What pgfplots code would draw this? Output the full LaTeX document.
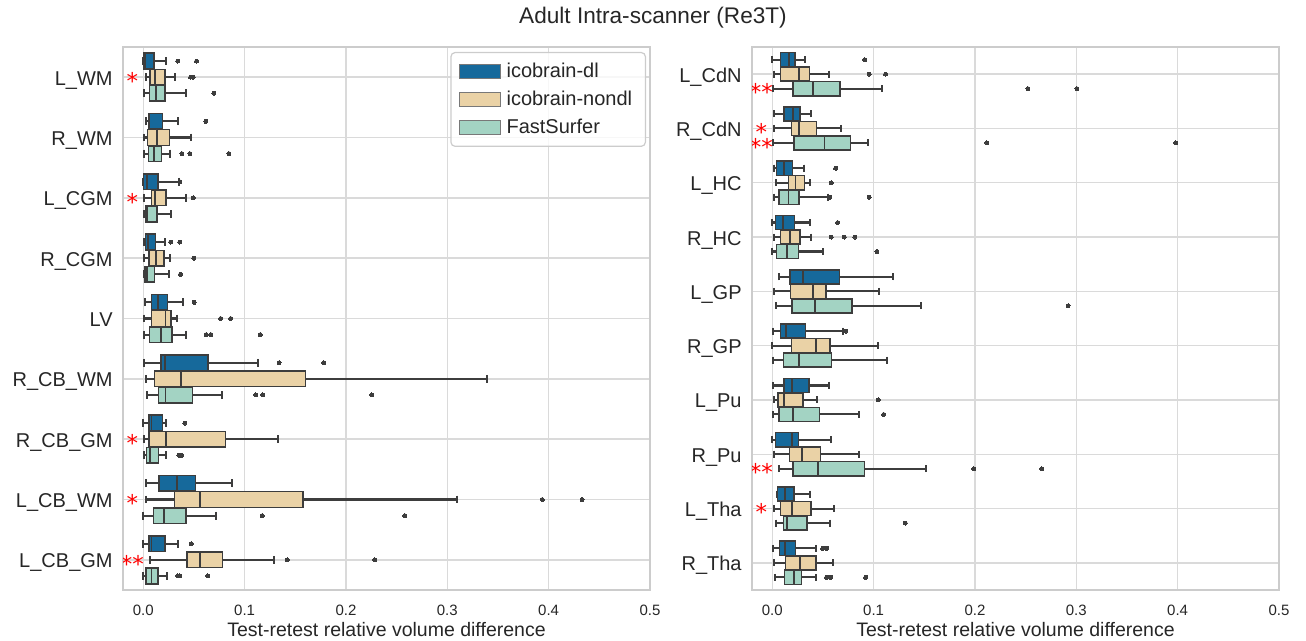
\documentclass[border=0pt]{standalone}
\usepackage{pgfplots}
\pgfplotsset{compat=1.18}
\usepgfplotslibrary{statistics}
\usepackage{fontspec}
\setmainfont{Liberation Sans}
\newfontfamily\djv{DejaVu Sans}
\definecolor{cblue}{RGB}{22,105,155}
\definecolor{ctan}{RGB}{234,210,166}
\definecolor{cmint}{RGB}{163,211,195}
\definecolor{edge}{RGB}{61,61,61}
\definecolor{gridgray}{RGB}{218,218,218}
\definecolor{framegray}{RGB}{204,204,204}
\definecolor{leggray}{RGB}{120,120,120}

\newcommand{\bx}[7]{\addplot[forget plot, fill=#1, draw=edge, line width=0.8pt,
  mark=*, mark size=1pt, mark options={fill=edge, draw=edge, line width=0pt},
  boxplot/every whisker/.style={draw=edge, line width=1.05pt},
  boxplot/every box/.style={draw=edge, line width=0.8pt},
  boxplot/every median/.style={draw=edge, line width=0.9pt},
  boxplot prepared={draw position=#2, lower whisker=#3, lower quartile=#4, median=#5,
  upper quartile=#6, upper whisker=#7, box extend=0.26, whisker extend=0.13}]}
\newcommand{\st}[2]{\node[text=red, font=\djv\fontsize{11.5}{12}\selectfont, anchor=base, yshift=-6.1pt, inner sep=0pt] at (axis cs:-0.0108,#1) {\smash{#2}};}
\newcommand{\legimg}[1]{\addlegendimage{legend image code/.code={\draw[fill=#1, draw=leggray, line width=0.6pt, sharp corners, fill opacity=1, draw opacity=1] (0pt,-3.4pt) rectangle (20.6pt,3.4pt);}}}

\pgfplotsset{myax/.style={
  scale only axis, width=263.5pt, height=271.5pt,
  xmin=-0.02, xmax=0.5, y dir=reverse,
  boxplot/draw direction=x,
  xtick={0,0.1,0.2,0.3,0.4,0.5}, xticklabels={0.0,0.1,0.2,0.3,0.4,0.5},
  xmajorgrids, ymajorgrids, major tick length=0pt,
  major grid style={draw=gridgray, line width=0.7pt},
  axis line style={draw=framegray, line width=0.8pt},
  tick label style={text=black!85},
  xticklabel style={font=\fontsize{7.5}{9}\selectfont, anchor=base, yshift=-12.5pt},
  yticklabel style={font=\fontsize{10}{12}\selectfont, anchor=base east, yshift=-4pt, xshift=-5pt, inner sep=0pt},
  xlabel={Test-retest relative volume difference},
  xlabel style={font=\fontsize{9.75}{12}\selectfont, text=black!85, at={(axis description cs:0.5,0)}, anchor=base, yshift=-23.3pt},
}}

\begin{document}
\begin{tikzpicture}
\useasboundingbox (0,0) rectangle (653pt,320.5pt);
\node[font=\fontsize{11.3}{13}\selectfont, text=black!85] at (326.5pt,311.5pt) {Adult Intra-scanner (Re3T)};

% ---------------- left panel ----------------
\begin{axis}[myax, at={(61.5pt,25.5pt)}, anchor=south west,
  ymin=-0.5, ymax=8.5, ytick={0,1,2,3,4,5,6,7,8},
  yticklabels={L\_WM,R\_WM,L\_CGM,R\_CGM,LV,R\_CB\_WM,R\_CB\_GM,L\_CB\_WM,L\_CB\_GM},
  legend style={at={(1,1)}, anchor=north east, xshift=-2pt, yshift=-2.5pt,
    draw=framegray, line width=0.6pt, rounded corners=2pt, fill=white, fill opacity=0.8, text opacity=1,
    font=\fontsize{10}{12}\selectfont, text=black!85, inner xsep=4pt, inner ysep=2.5pt, row sep=0pt,
    nodes={inner sep=2.6pt}},
  legend cell align=left]
% L_WM
\bx{cblue}{-0.267}{0}{0.0007}{0.002}{0.0105}{0.022} coordinates {(0,0.034) (0,0.0526)};
\bx{ctan}{0}{0.0023}{0.0066}{0.0115}{0.0214}{0.031} coordinates {(0,0.0467) (0,0.0493)};
\bx{cmint}{0.267}{0.0007}{0.006}{0.0122}{0.0217}{0.0418} coordinates {(0,0.0697)};
% R_WM
\bx{cblue}{0.733}{0.0023}{0.0056}{0.0062}{0.019}{0.0345} coordinates {(0,0.0618)};
\bx{ctan}{1}{0.0007}{0.0043}{0.0132}{0.0257}{0.047} coordinates {};
\bx{cmint}{1.267}{0.0007}{0.0053}{0.0109}{0.0178}{0.0266} coordinates {(0,0.0382) (0,0.046) (0,0.0845)};
% L_CGM
\bx{cblue}{1.733}{0}{0.0003}{0.0033}{0.0148}{0.0355} coordinates {(0,0.0362)};
\bx{ctan}{2}{0.0003}{0.0082}{0.0115}{0.0227}{0.0418} coordinates {(0,0.0493)};
\bx{cmint}{2.267}{0.0007}{0.0023}{0.0033}{0.0135}{0.0273} coordinates {};
% R_CGM
\bx{cblue}{2.733}{0.0007}{0.0023}{0.005}{0.0122}{0.021} coordinates {(0,0.027) (0,0.036)};
\bx{ctan}{3}{0.0003}{0.0056}{0.0125}{0.0204}{0.0266} coordinates {(0,0.05)};
\bx{cmint}{3.267}{0.0007}{0.0016}{0.0036}{0.0109}{0.0253} coordinates {(0,0.0368)};
% LV
\bx{cblue}{3.733}{0.0013}{0.0082}{0.0148}{0.024}{0.0395} coordinates {(0,0.0503)};
\bx{ctan}{4}{0.0007}{0.0082}{0.022}{0.0276}{0.0329} coordinates {(0,0.0763) (0,0.0862)};
\bx{cmint}{4.267}{0.0007}{0.0062}{0.0178}{0.0286}{0.0421} coordinates {(0,0.0622) (0,0.0668) (0,0.1155)};
% R_CB_WM
\bx{cblue}{4.733}{0.001}{0.0174}{0.0214}{0.0641}{0.1128} coordinates {(0,0.134) (0,0.178)};
\bx{ctan}{5}{0.0023}{0.0109}{0.0372}{0.160}{0.339} coordinates {};
\bx{cmint}{5.267}{0.0033}{0.0151}{0.022}{0.0487}{0.0773} coordinates {(0,0.111) (0,0.118) (0,0.2254)};
% R_CB_GM
\bx{cblue}{5.733}{0}{0.0059}{0.0082}{0.0191}{0.0224} coordinates {(0,0.0411)};
\bx{ctan}{6}{0.0007}{0.0056}{0.0224}{0.0812}{0.1329} coordinates {};
\bx{cmint}{6.267}{0.0007}{0.0033}{0.0066}{0.0151}{0.0224} coordinates {(0,0.0352) (0,0.0378)};
% L_CB_WM
\bx{cblue}{6.733}{0.0026}{0.0158}{0.0332}{0.0516}{0.0878} coordinates {};
\bx{ctan}{7}{0.0023}{0.0309}{0.0562}{0.1579}{0.3098} coordinates {(0,0.3937) (0,0.4329)};
\bx{cmint}{7.267}{0}{0.0099}{0.0207}{0.0421}{0.0717} coordinates {(0,0.1174) (0,0.258)};
% L_CB_GM
\bx{cblue}{7.733}{0}{0.0059}{0.0082}{0.0217}{0.0339} coordinates {(0,0.0474)};
\bx{ctan}{8}{0.0066}{0.0431}{0.0559}{0.0783}{0.1289} coordinates {(0,0.142) (0,0.2283)};
\bx{cmint}{8.267}{0}{0.0026}{0.0082}{0.0148}{0.0237} coordinates {(0,0.0339) (0,0.0362) (0,0.0635)};
\st{0}{*}
\st{2}{*}
\st{6}{*}
\st{7}{*}
\st{8}{**}
\legimg{cblue}\addlegendentry{icobrain-dl}
\legimg{ctan}\addlegendentry{icobrain-nondl}
\legimg{cmint}\addlegendentry{FastSurfer}
\end{axis}

% ---------------- right panel ----------------
\begin{axis}[myax, at={(376pt,25.5pt)}, anchor=south west,
  ymin=-0.5, ymax=9.5, ytick={0,1,2,3,4,5,6,7,8,9},
  yticklabels={L\_CdN,R\_CdN,L\_HC,R\_HC,L\_GP,R\_GP,L\_Pu,R\_Pu,L\_Tha,R\_Tha}]
% L_CdN
\bx{cblue}{-0.267}{0}{0.0082}{0.0164}{0.0224}{0.0326} coordinates {(0,0.0911)};
\bx{ctan}{0}{0.002}{0.0082}{0.0266}{0.0368}{0.0563} coordinates {(0,0.0957) (0,0.1118)};
\bx{cmint}{0.267}{0.0007}{0.0207}{0.0398}{0.0668}{0.1082} coordinates {(0,0.2523) (0,0.3006)};
% R_CdN
\bx{cblue}{0.733}{0.0013}{0.0118}{0.0207}{0.0273}{0.0378} coordinates {};
\bx{ctan}{1}{0.0013}{0.0188}{0.026}{0.0438}{0.0674} coordinates {};
\bx{cmint}{1.267}{0.0007}{0.0217}{0.0516}{0.0773}{0.0947} coordinates {(0,0.2118) (0,0.398)};
% L_HC
\bx{cblue}{1.733}{0.002}{0.0043}{0.0112}{0.0201}{0.0316} coordinates {(0,0.0625)};
\bx{ctan}{2}{0.0036}{0.0161}{0.023}{0.0316}{0.0368} coordinates {(0,0.0582)};
\bx{cmint}{2.267}{0.002}{0.0069}{0.0161}{0.0263}{0.0553} coordinates {(0,0.0569) (0,0.0957)};
% R_HC
\bx{cblue}{2.733}{0}{0.003}{0.0102}{0.022}{0.0375} coordinates {(0,0.0645)};
\bx{ctan}{3}{0.0013}{0.0082}{0.0171}{0.0273}{0.0378} coordinates {(0,0.0582) (0,0.0711) (0,0.0816)};
\bx{cmint}{3.267}{0}{0.0043}{0.0145}{0.0257}{0.0497} coordinates {(0,0.1033)};
% L_GP
\bx{cblue}{3.733}{0.0063}{0.0174}{0.0303}{0.0664}{0.1194} coordinates {};
\bx{ctan}{4}{0.002}{0.0181}{0.0398}{0.0533}{0.1056} coordinates {};
\bx{cmint}{4.267}{0.0039}{0.0197}{0.0421}{0.0789}{0.1467} coordinates {(0,0.2918)};
% R_GP
\bx{cblue}{4.733}{0.0007}{0.0082}{0.0132}{0.0329}{0.0694} coordinates {(0,0.0724)};
\bx{ctan}{5}{0}{0.0188}{0.0428}{0.0572}{0.1043} coordinates {};
\bx{cmint}{5.267}{0.001}{0.0112}{0.0266}{0.0586}{0.1128} coordinates {};
% L_Pu
\bx{cblue}{5.733}{0.0007}{0.0115}{0.0194}{0.0362}{0.0563} coordinates {};
\bx{ctan}{6}{0.0013}{0.0059}{0.0115}{0.0303}{0.0438} coordinates {(0,0.1046)};
\bx{cmint}{6.267}{0.0007}{0.0069}{0.0204}{0.0464}{0.0852} coordinates {(0,0.1099)};
% R_Pu
\bx{cblue}{6.733}{0}{0.003}{0.0194}{0.026}{0.0576} coordinates {};
\bx{ctan}{7}{0.002}{0.0168}{0.0296}{0.0477}{0.0855} coordinates {};
\bx{cmint}{7.267}{0.0066}{0.0207}{0.0451}{0.0908}{0.1516} coordinates {(0,0.1987) (0,0.2658)};
% L_Tha
\bx{cblue}{7.733}{0.0046}{0.005}{0.0125}{0.0214}{0.0368} coordinates {};
\bx{ctan}{8}{0.002}{0.0082}{0.0191}{0.0382}{0.0609} coordinates {};
\bx{cmint}{8.267}{0.0039}{0.0112}{0.0148}{0.0342}{0.0569} coordinates {(0,0.1313)};
% R_Tha
\bx{cblue}{8.733}{0.001}{0.0072}{0.0125}{0.023}{0.0428} coordinates {(0,0.0497) (0,0.0536)};
\bx{ctan}{9}{0.002}{0.0132}{0.0273}{0.0434}{0.0599} coordinates {};
\bx{cmint}{9.267}{0.0026}{0.0122}{0.0211}{0.0289}{0.0431} coordinates {(0,0.0536) (0,0.0576) (0,0.0921)};
\st{0.267}{**}
\st{1}{*}
\st{1.267}{**}
\st{7.267}{**}
\st{8}{*}
\end{axis}
\end{tikzpicture}
\end{document}
